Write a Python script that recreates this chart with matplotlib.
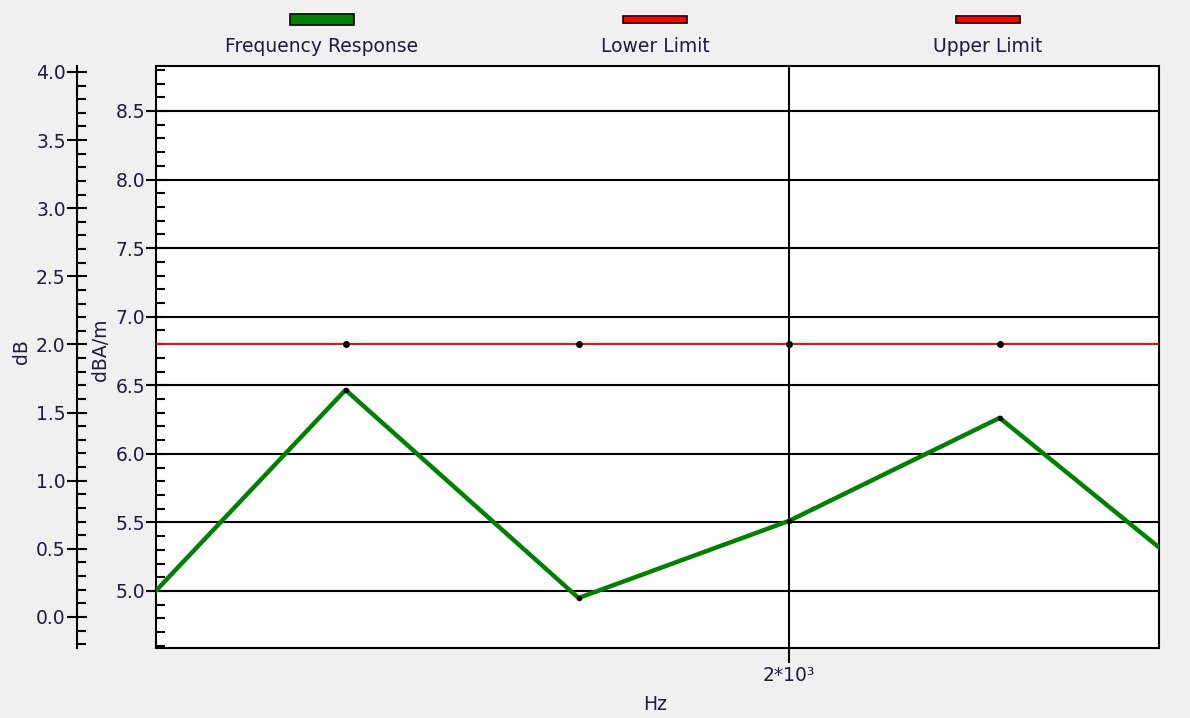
import matplotlib
matplotlib.use("Agg")
import matplotlib.pyplot as plt
from matplotlib.ticker import FixedLocator, MultipleLocator, FormatStrFormatter, NullLocator, FixedFormatter
from matplotlib.patches import Rectangle

# ---- data ----
freq_hz = [1000, 1250, 1600, 2000, 2500, 3150]
response_dba_m = [4.84, 6.466, 4.949, 5.511, 6.262, 4.97]
lower_limit_db = [2.0, 2.0, 2.0, 2.0, 2.0, 2.0]
upper_limit_db = [2.0, 2.0, 2.0, 2.0, 2.0, 2.0]
marker_freqs = [1250, 1600, 2000, 2500]
legend_labels = ["Frequency Response", "Lower Limit", "Upper Limit"]
x_tick_values = [2000]
x_tick_labels = ["2*10³"]

plt.rcParams['font.family'] = ['DejaVu Sans']
W, H = 1190, 718
BG = "#f0f0f0"
TXT = "#1c1c3c"
FS = 13.5
fig = plt.figure(figsize=(W / 100, H / 100), dpi=100, facecolor=BG)

L, R, B, T = 156, 1159, 648, 66
ax = fig.add_axes([L / W, 1 - B / H, (R - L) / W, (B - T) / H])
ax.set_facecolor("white")
ax.set_xscale("log")
ax.set_xlim(1022.5, 2960)
ax.set_ylim(4.584, 8.828)

# inner axis ticks
ax.yaxis.set_major_locator(MultipleLocator(0.5))
ax.yaxis.set_minor_locator(MultipleLocator(0.1))
ax.yaxis.set_major_formatter(FormatStrFormatter('%.1f'))
ax.tick_params(axis='y', which='major', direction='inout', length=14, width=1.5,
               labelsize=FS, labelcolor=TXT, pad=1)
ax.tick_params(axis='y', which='minor', direction='in', length=6.5, width=1.5)
ax.xaxis.set_major_locator(FixedLocator(x_tick_values))
ax.xaxis.set_major_formatter(FixedFormatter(x_tick_labels))
ax.xaxis.set_minor_locator(NullLocator())
ax.tick_params(axis='x', which='major', direction='out', length=11, width=1.5,
               labelsize=FS, labelcolor=TXT, pad=2)
ax.grid(True, which='major', color='black', linewidth=1.5)
ax.set_axisbelow(True)
for s in ax.spines.values():
    s.set_color('black')
    s.set_linewidth(1.5)

ax.plot(freq_hz, response_dba_m, color='#008000', linewidth=3.2, zorder=3,
        solid_capstyle='butt')
mk = [response_dba_m[freq_hz.index(f)] for f in marker_freqs]
ax.plot(marker_freqs, mk, 'o', color='black', markersize=3, zorder=4)

# outer dB axis
ax2 = ax.twinx()
ax2.set_ylim(-0.228, 4.044)
ax2.yaxis.set_ticks_position('left')
ax2.yaxis.set_label_position('left')
ax2.spines['left'].set_position(('outward', 57))
ax2.spines['left'].set_linewidth(1.5)
for k in ('right', 'top', 'bottom'):
    ax2.spines[k].set_visible(False)
ax2.yaxis.set_major_locator(MultipleLocator(0.5))
ax2.yaxis.set_minor_locator(MultipleLocator(0.1))
ax2.yaxis.set_major_formatter(FormatStrFormatter('%.1f'))
ax2.tick_params(axis='y', which='major', direction='inout', length=14, width=1.5,
                labelsize=FS, labelcolor=TXT, pad=1)
ax2.tick_params(axis='y', which='minor', direction='in', length=6.5, width=1.5)

ax2.plot(freq_hz, lower_limit_db, color='red', linewidth=1.2, zorder=3)
ax2.plot(freq_hz, upper_limit_db, color='red', linewidth=1.2, zorder=3)
lm = [upper_limit_db[freq_hz.index(f)] for f in marker_freqs]
ax2.plot(marker_freqs, lm, 'o', color='black', markersize=4, zorder=4)
ax2.set_xlim(1022.5, 2960)

# axis labels
fig.text(22 / W, 1 - 352 / H, "dB", rotation=90, ha='center', va='center',
         fontsize=FS, color=TXT)
fig.text(100 / W, 1 - 350 / H, "dBA/m", rotation=90, ha='center', va='center',
         fontsize=FS, color=TXT)
fig.text(655 / W, 1 - 705 / H, "Hz", ha='center', va='center', fontsize=FS, color=TXT)

# legend
leg_colors = ['#008000', 'red', 'red']
leg_cx = [322, 655, 988]
leg_h = [11, 7, 7]
for lab, c, cx, hh in zip(legend_labels, leg_colors, leg_cx, leg_h):
    yc = 19
    fig.patches.append(Rectangle(((cx - 32) / W, 1 - (yc + hh / 2) / H), 64 / W, hh / H,
                                 transform=fig.transFigure, facecolor=c,
                                 edgecolor='black', linewidth=1.2))
    fig.text(cx / W, 1 - 47 / H, lab, ha='center', va='center', fontsize=FS, color=TXT)

fig.savefig("out.png", dpi=100, facecolor=BG)
